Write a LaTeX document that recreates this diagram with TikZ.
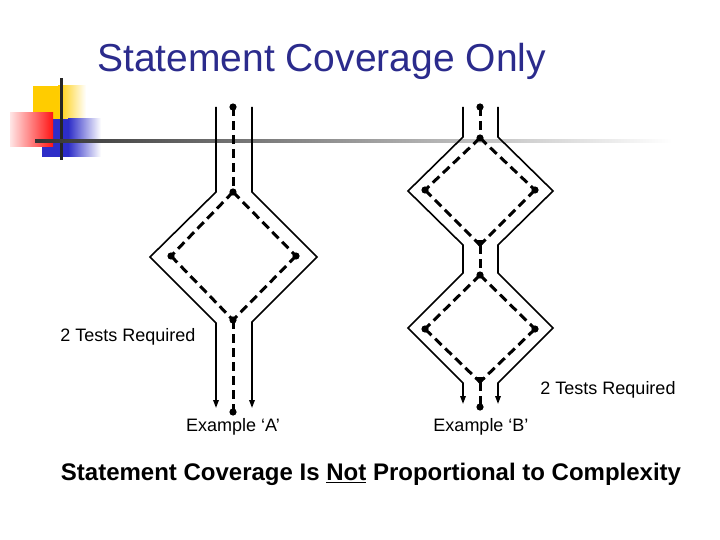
\documentclass[tikz,border=0pt]{standalone}
\usepackage{fontspec}
\setmainfont{Liberation Sans}
\usetikzlibrary{arrows.meta}
\definecolor{decoyellow}{RGB}{255,204,0}
\definecolor{decoblue}{RGB}{45,45,200}
\definecolor{decored}{RGB}{255,20,20}
\definecolor{titleblue}{RGB}{43,43,140}
\begin{document}
\begin{tikzpicture}[x=1pt,y=-1pt,
  outline/.style={line width=1.6pt, black, -{Triangle[length=8pt,width=5.5pt]}},
  flow/.style={line width=3pt, dash pattern=on 9pt off 5pt, black},
  lbl/.style={font=\fontsize{18}{20}\selectfont, inner sep=0pt, text=black},
  downtip/.style={fill=black},
]
\useasboundingbox (0,0) rectangle (720,540);

% decoration
\fill[decoyellow] (33,86) rectangle (58,119);
\shade[left color=decoyellow, right color=white] (58,86) rectangle (86,119);
\fill[decoblue] (42,119) rectangle (68,157);
\shade[left color=decoblue, right color=white] (68,119) rectangle (101,157);
\shade[left color=red!10!white, right color=decored] (10,113) rectangle (53,147);
\fill[black!85] (60,78) rectangle (62.5,160);
\shade[left color=black!80, right color=white] (35,139.5) rectangle (672,142.5);

% title
\node[font=\fontsize{39}{44}\selectfont, text=titleblue, anchor=west, inner sep=0pt] (title) at (97,61) {Statement Coverage Only};

% ---------- Example A ----------
\coordinate (aT) at (233,107);
\coordinate (aD) at (233,192);
\coordinate (aL) at (171,256);
\coordinate (aR) at (296,256);
\coordinate (aB) at (233,320);
\coordinate (aE) at (233,412);
\coordinate (aoL0) at (216,107);
\coordinate (aoL1) at (216,192);
\coordinate (aoL2) at (150,257);
\coordinate (aoL3) at (216,323);
\coordinate (aoL4) at (216,408);
\coordinate (aoR0) at (252,107);
\coordinate (aoR1) at (252,192);
\coordinate (aoR2) at (317,257);
\coordinate (aoR3) at (252,322);
\coordinate (aoR4) at (252,408);

\draw[outline] (aoL0) -- (aoL1) -- (aoL2) -- (aoL3) -- (aoL4);
\draw[outline] (aoR0) -- (aoR1) -- (aoR2) -- (aoR3) -- (aoR4);
\draw[flow] (aT) -- (aD);
\draw[flow] (aD) -- (aL);
\draw[flow] (aD) -- (aR);
\draw[flow] (aL) -- (aB);
\draw[flow] (aR) -- (aB);
\draw[flow] (aB) -- (aE);
\foreach \p in {aT,aD,aL,aR,aB,aE} \fill (\p) circle (3.6pt);

% ---------- Example B ----------
\coordinate (bT) at (480,107);
\coordinate (bD1) at (480,138);
\coordinate (bL1) at (425,190);
\coordinate (bR1) at (535,190);
\coordinate (bB1) at (480,245);
\coordinate (bD2) at (480,275);
\coordinate (bL2) at (425,329);
\coordinate (bR2) at (535,329);
\coordinate (bB2) at (480,382);
\coordinate (bE) at (480,407);
\coordinate (boL0) at (463,107);
\coordinate (boL1) at (463,137);
\coordinate (boL2) at (408,191);
\coordinate (boL3) at (463,245);
\coordinate (boL4) at (463,273);
\coordinate (boL5) at (408,328);
\coordinate (boL6) at (463,383);
\coordinate (boL7) at (463,404);
\coordinate (boR0) at (498,107);
\coordinate (boR1) at (498,137);
\coordinate (boR2) at (553,191);
\coordinate (boR3) at (498,245);
\coordinate (boR4) at (498,273);
\coordinate (boR5) at (553,328);
\coordinate (boR6) at (498,383);
\coordinate (boR7) at (498,404);

\draw[outline] (boL0) -- (boL1) -- (boL2) -- (boL3) -- (boL4) -- (boL5) -- (boL6) -- (boL7);
\draw[outline] (boR0) -- (boR1) -- (boR2) -- (boR3) -- (boR4) -- (boR5) -- (boR6) -- (boR7);
\draw[flow] (bT) -- (bD1);
\draw[flow] (bD1) -- (bL1);
\draw[flow] (bD1) -- (bR1);
\draw[flow] (bL1) -- (bB1);
\draw[flow] (bR1) -- (bB1);
\draw[flow] (bB1) -- (bD2);
\draw[flow] (bD2) -- (bL2);
\draw[flow] (bD2) -- (bR2);
\draw[flow] (bL2) -- (bB2);
\draw[flow] (bR2) -- (bB2);
\draw[flow] (bB2) -- (bE);
\foreach \p in {bT,bD1,bL1,bR1,bD2,bL2,bR2,bE} \fill (\p) circle (3.6pt);
\foreach \p in {bB1,bB2} \fill[downtip, shift={(\p)}] (-5,-5) -- (5,-5) -- (0,3) -- cycle;

% labels
\node[lbl] (reqA) at (128,337) {2 Tests Required};
\node[lbl] (reqB) at (608,390) {2 Tests Required};
\node[lbl] (exA) at (233,427) {Example ‘A’};
\node[lbl] (exB) at (481,427) {Example ‘B’};
\node[font=\bfseries\fontsize{24}{28}\selectfont, inner sep=0pt] (concl) at (371,474)
  {Statement Coverage Is \underline{Not} Proportional to Complexity};
\end{tikzpicture}
\end{document}
